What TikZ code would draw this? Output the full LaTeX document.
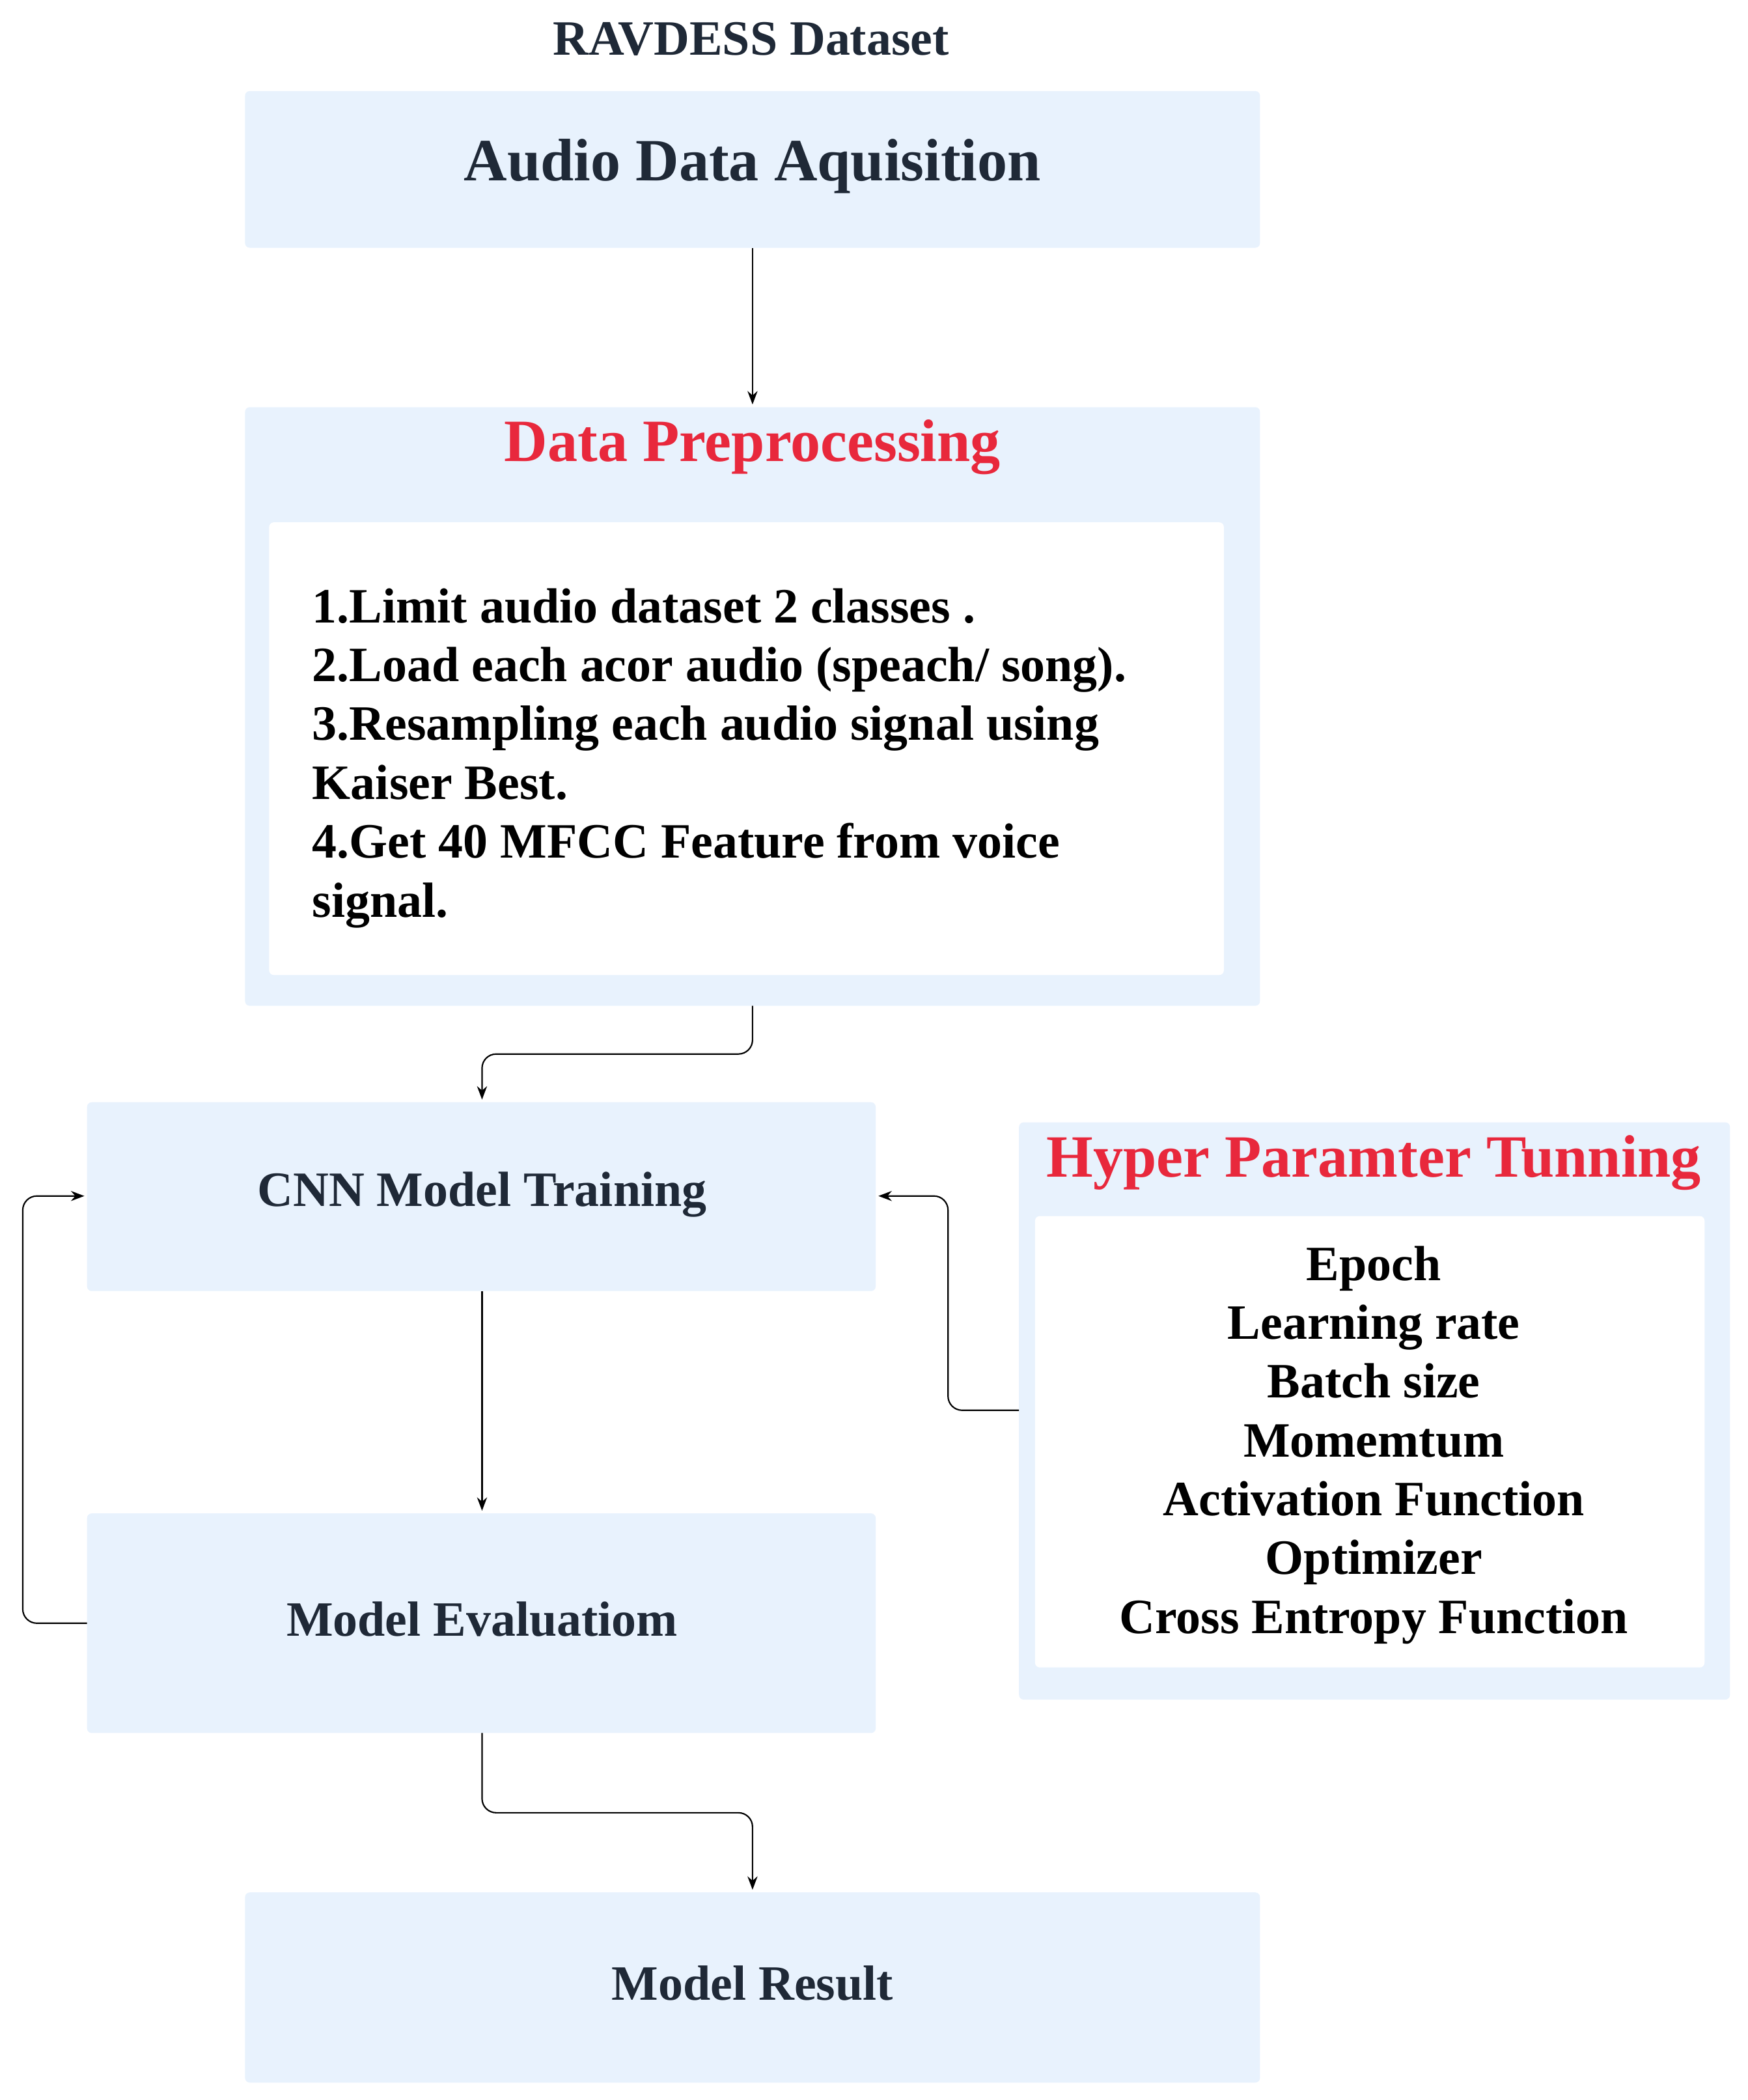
\documentclass[tikz,border=0pt]{standalone}
\usepackage{fontspec}
\setmainfont{Liberation Serif}
\usetikzlibrary{positioning, calc, arrows.meta}
\definecolor{boxblue}{HTML}{E8F2FD}
\definecolor{darktext}{HTML}{1F2937}
\definecolor{headred}{HTML}{E8283C}

\begin{document}
\begin{tikzpicture}[x=0.02cm, y=-0.02cm, >=Stealth,
    panel/.style={fill=boxblue, draw=none, rounded corners=2pt},
    inner/.style={fill=white, draw=none, rounded corners=2pt},
    label/.style={font=\bfseries\fontsize{21}{25}\selectfont, text=darktext},
    head/.style={font=\bfseries\fontsize{25.5}{30}\selectfont, text=headred},
    link/.style={->, line width=0.6pt, rounded corners=6pt}]
    \useasboundingbox (0,0) rectangle (1305,1568);

    % Title
    \node[font=\bfseries\fontsize{21}{25}\selectfont, text=darktext] (ttl) at (561,29) {RAVDESS Dataset};

    % Acquisition
    \fill[panel] (183,68) rectangle (941,185);
    \coordinate (acqT) at (562,68);
    \coordinate (acqB) at (562,185);
    \node[font=\bfseries\fontsize{25.5}{30}\selectfont, text=darktext] (acq) at (562,124) {Audio Data Aquisition};

    % Preprocessing
    \fill[panel] (183,304) rectangle (941,751);
    \fill[inner] (201,390) rectangle (914,728);
    \coordinate (preT) at (562,304);
    \coordinate (preB) at (562,751);
    \node[head] (pre) at (562,334) {Data Preprocessing};
    \node[font=\bfseries\fontsize{21}{25}\selectfont, align=left, anchor=north west, inner sep=0pt] (steps) at (233,439)
        {1.Limit audio dataset 2 classes .\\
         2.Load each acor audio (speach/ song).\\
         3.Resampling each audio signal using\\
         Kaiser Best.\\
         4.Get 40 MFCC Feature from voice\\
         signal.};

    % CNN training
    \fill[panel] (65,823) rectangle (654,964);
    \coordinate (cnnT) at (360,823);
    \coordinate (cnnB) at (360,964);
    \coordinate (cnnL) at (65,893);
    \coordinate (cnnR) at (654,893);
    \node[label] (cnn) at (360,892) {CNN Model Training};

    % Evaluation
    \fill[panel] (65,1130) rectangle (654,1294);
    \coordinate (evT) at (360,1130);
    \coordinate (evB) at (360,1294);
    \coordinate (evL) at (65,1212);
    \node[label] (ev) at (360,1209) {Model Evaluatiom};

    % Result
    \fill[panel] (183,1413) rectangle (941,1555);
    \coordinate (resT) at (562,1413);
    \node[label] (res) at (562,1481) {Model Result};

    % Hyper parameters
    \fill[panel] (761,838) rectangle (1292,1269);
    \fill[inner] (773,908) rectangle (1273,1245);
    \coordinate (hypL) at (761,1053);
    \node[head] (hyp) at (1026,868) {Hyper Paramter Tunning};
    \node[font=\bfseries\fontsize{21}{25}\selectfont, align=center, anchor=north, inner sep=0pt] (params) at (1026,930)
        {Epoch\\ Learning rate\\ Batch size\\ Momemtum\\ Activation Function\\ Optimizer\\ Cross Entropy Function};

    % Connectors
    \draw[link] (acqB) -- ($(preT)+(0,-2)$);
    \draw[link] (preB) |- ($(preB)!0.5!(cnnT)$) -| ($(cnnT)+(0,-2)$);
    \draw[link] (cnnB) -- ($(evT)+(0,-2)$);
    \draw[link] (evL) -- ++(-48,0) |- ($(cnnL)+(-2,0)$);
    \draw[link] (hypL) -- ++(-53,0) |- ($(cnnR)+(2,0)$);
    \draw[link] (evB) |- ($(evB)!0.5!(resT)$) -| ($(resT)+(0,-2)$);
\end{tikzpicture}
\end{document}
